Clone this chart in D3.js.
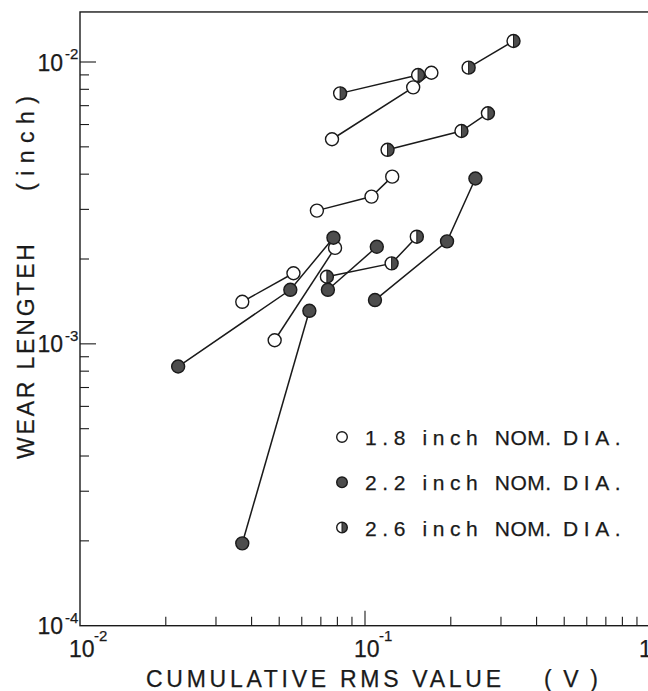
<!DOCTYPE html>
<html><head><meta charset="utf-8">
<script src="https://cdn.jsdelivr.net/npm/d3@7"></script>
<style>
html,body{margin:0;padding:0;background:#fff;overflow:hidden;}
svg{display:block;font-family:"Liberation Sans",Arial,Helvetica,sans-serif;}
text{stroke:#1a1a1a;stroke-width:0.25px;}
</style></head>
<body>
<svg id="c" width="648" height="691"></svg>
<script>
// ---- data ----
const xDomain = [0.01, 1];
const yDomain = [1e-4, 1e-2];
const yTopValue = 0.01505; // top of plot frame
const xTickLabels = [{v:0.01, e:"-2"}, {v:0.1, e:"-1"}, {v:1, e:"0"}];
const yTickLabels = [{v:1e-4, e:"-4"}, {v:1e-3, e:"-3"}, {v:1e-2, e:"-2"}];

const dia18_x = [[0.0371,0.0561],[0.0482,0.0785],[0.0678,0.1054,0.1246],[0.0766,0.1476,0.171]];
const dia18_y = [[1.41e-3,1.78e-3],[1.03e-3,2.19e-3],[2.97e-3,3.33e-3,3.92e-3],[5.32e-3,8.13e-3,9.16e-3]];
const dia22_x = [[0.0221,0.0547,0.0775],[0.0371,0.0638],[0.0741,0.110],[0.1084,0.194,0.244]];
const dia22_y = [[8.31e-4,1.555e-3,2.38e-3],[1.96e-4,1.31e-3],[1.555e-3,2.21e-3],[1.43e-3,2.31e-3,3.86e-3]];
const dia26_x = [[0.0818,0.1536],[0.231,0.332],[0.120,0.218,0.270],[0.0735,0.124,0.152]];
const dia26_y = [[7.74e-3,8.99e-3],[9.55e-3,1.187e-2],[4.88e-3,5.69e-3,6.58e-3],[1.73e-3,1.93e-3,2.40e-3]];

const legendLabels = [
  ["1.8 inch ", "NOM.", " DIA."],
  ["2.2 inch ", "NOM.", " DIA."],
  ["2.6 inch ", "NOM.", " DIA."]
];
const legendKinds = ["open","filled","half"];

// ---- layout ----
const svg = d3.select("#c");
const x = d3.scaleLog().domain(xDomain).range([80, 650]);
const y = d3.scaleLog().domain(yDomain).range([625.7, 62]);
const GRAY = "#4d4d4d";
const INK = "#1a1a1a";
const R = 6.5;

// frame
const fx0 = x(xDomain[0]), fx1 = x(xDomain[1]), fy0 = y(yDomain[0]), fy1 = y(yTopValue);
svg.append("rect").attr("x", fx0).attr("y", fy1).attr("width", fx1 - fx0).attr("height", fy0 - fy1)
  .attr("fill","none").attr("stroke",INK).attr("stroke-width",1.4);

// ticks
const isMajor = d => Math.abs(Math.log10(d) - Math.round(Math.log10(d))) < 1e-6;
const xt = [];
for (let d = -2; d < 0; d++) for (let m = 1; m <= 9; m++) xt.push(m * Math.pow(10, d));
svg.append("g").selectAll("line").data(xt.filter(v => v > xDomain[0] * 1.0001)).join("line")
  .attr("x1", d => x(d)).attr("x2", d => x(d))
  .attr("y1", fy0).attr("y2", d => fy0 - (isMajor(d) ? 15 : 9))
  .attr("stroke",INK).attr("stroke-width",1.1);

const yt = [];
for (let d = -4; d < -2; d++) for (let m = 1; m <= 9; m++) yt.push(m * Math.pow(10, d));
yt.push(1e-2);
svg.append("g").selectAll("line").data(yt.filter(v => v > yDomain[0] * 1.0001)).join("line")
  .attr("y1", d => y(d)).attr("y2", d => y(d))
  .attr("x1", fx0).attr("x2", d => fx0 + (isMajor(d) ? 16 : 9))
  .attr("stroke",INK).attr("stroke-width",1.1);

// tick labels
const tl = svg.append("g").attr("fill",INK);
xTickLabels.forEach(t => {
  const px = x(t.v);
  tl.append("text").attr("x", px - 11).attr("y", 657).attr("font-size", 23).text("10");
  tl.append("text").attr("x", px + 14).attr("y", 641).attr("font-size", 15).text(t.e);
});
yTickLabels.forEach(t => {
  const py = y(t.v);
  tl.append("text").attr("x", 63).attr("y", py + 8.5).attr("font-size", 23)
    .attr("text-anchor","end").text("10");
  tl.append("text").attr("x", 65).attr("y", py - 3).attr("font-size", 15).text(t.e);
});

// axis titles
svg.append("text").attr("x", 146).attr("y", 687).attr("font-size", 23).attr("fill",INK)
  .attr("textLength", 355).attr("lengthAdjust","spacing").text("CUMULATIVE RMS VALUE");
svg.append("text").attr("x", 544).attr("y", 687).attr("font-size", 23).attr("fill",INK)
  .attr("textLength", 54).attr("lengthAdjust","spacing").text("(V)");

const yl = svg.append("g").attr("transform","translate(34,0) rotate(-90)");
yl.append("text").attr("x", -459).attr("y", 0).attr("font-size", 23).attr("fill",INK)
  .attr("textLength", 215).attr("lengthAdjust","spacing").text("WEAR LENGTEH");
yl.append("text").attr("x", -191).attr("y", 0).attr("font-size", 23).attr("fill",INK)
  .attr("textLength", 95).attr("lengthAdjust","spacing").text("(inch)");

// data
const groups = [];
function addGroups(xs, ys, kind) { xs.forEach((g, i) => groups.push({kind, pts: g.map((v, j) => [v, ys[i][j]])})); }
addGroups(dia26_x, dia26_y, "half");
addGroups(dia18_x, dia18_y, "open");
addGroups(dia22_x, dia22_y, "filled");

const line = d3.line().x(d => x(d[0])).y(d => y(d[1]));
svg.append("g").selectAll("path").data(groups).join("path")
  .attr("d", d => line(d.pts)).attr("fill","none").attr("stroke",INK).attr("stroke-width",1.5);

function marker(g, cx, cy, r, kind) {
  if (kind === "half") {
    g.append("circle").attr("cx", cx).attr("cy", cy).attr("r", r).attr("fill","#fff");
    g.append("path").attr("d", `M${cx},${cy - r} A${r},${r} 0 0 1 ${cx},${cy + r} Z`).attr("fill", GRAY);
    g.append("line").attr("x1", cx).attr("x2", cx).attr("y1", cy - r).attr("y2", cy + r).attr("stroke",INK).attr("stroke-width",1);
    g.append("circle").attr("cx", cx).attr("cy", cy).attr("r", r).attr("fill","none").attr("stroke",INK).attr("stroke-width",1.4);
  } else {
    g.append("circle").attr("cx", cx).attr("cy", cy).attr("r", r)
      .attr("fill", kind === "filled" ? GRAY : "#fff").attr("stroke",INK).attr("stroke-width",1.4);
  }
}
const mg = svg.append("g");
groups.forEach(gr => gr.pts.forEach(p => marker(mg, x(p[0]), y(p[1]), R, gr.kind)));

// legend
const lg = svg.append("g");
legendLabels.forEach((parts, i) => {
  const cy = 437 + i * 45.3;
  marker(lg, 342, cy, 5.3, legendKinds[i]);
  const t = lg.append("text").attr("x", 365).attr("y", cy + 8).attr("font-size", 21).attr("fill",INK)
    .style("white-space","pre");
  t.append("tspan").attr("letter-spacing", 5.6).text(parts[0]);
  t.append("tspan").attr("letter-spacing", 0.5).text(parts[1]);
  t.append("tspan").attr("letter-spacing", 5.6).text(parts[2]);
});
</script>
</body></html>
